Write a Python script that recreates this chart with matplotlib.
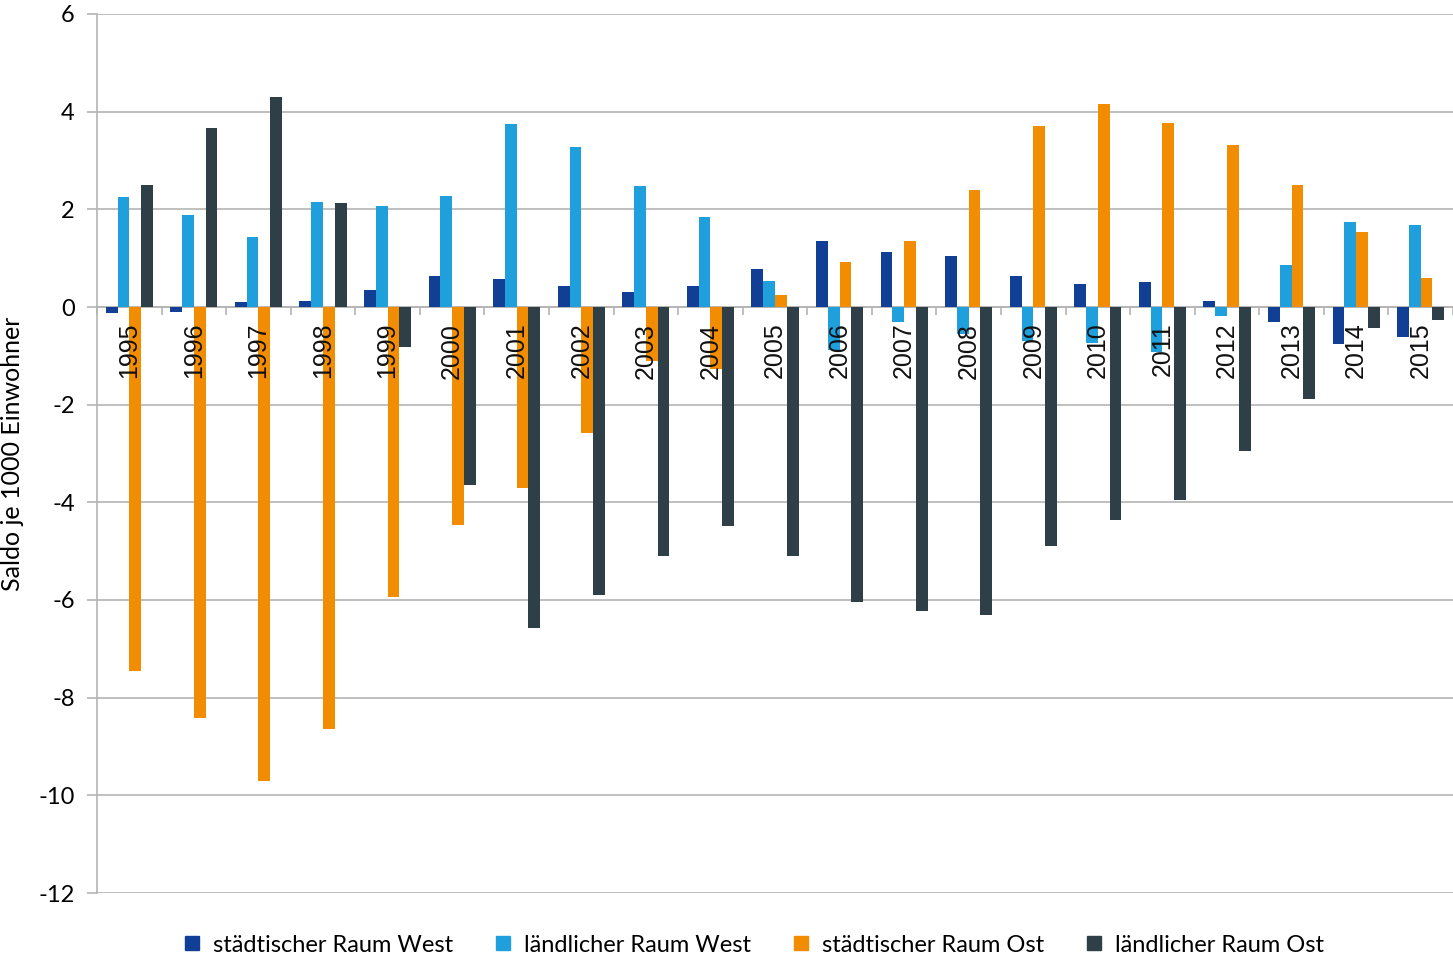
import matplotlib
matplotlib.use("Agg")
import matplotlib.pyplot as plt
from matplotlib.lines import Line2D
import numpy as np

plt.rcParams["axes.unicode_minus"] = False

years = list(range(1995, 2016))

# Saldo je 1000 Einwohner
staedt_west = [-0.13, -0.10, 0.10, 0.13, 0.35, 0.64, 0.57, 0.43, 0.31, 0.43, 0.78,
               1.35, 1.12, 1.05, 0.63, 0.47, 0.51, 0.12, -0.31, -0.76, -0.62]
laendl_west = [2.25, 1.88, 1.43, 2.15, 2.07, 2.27, 3.75, 3.28, 2.48, 1.84, 0.53,
               -0.88, -0.31, -0.55, -0.70, -0.74, -0.92, -0.18, 0.86, 1.74, 1.68]
staedt_ost = [-7.45, -8.42, -9.70, -8.65, -5.94, -4.47, -3.71, -2.58, -1.10, -1.27, 0.25,
              0.92, 1.35, 2.40, 3.70, 4.16, 3.77, 3.32, 2.50, 1.54, 0.60]
laendl_ost = [2.50, 3.67, 4.30, 2.13, -0.82, -3.65, -6.58, -5.90, -5.10, -4.49, -5.10,
              -6.05, -6.23, -6.31, -4.90, -4.36, -3.96, -2.95, -1.89, -0.43, -0.27]

series = [
    ("städtischer Raum West", staedt_west, "#123f96"),
    ("ländlicher Raum West", laendl_west, "#1fa0dc"),
    ("städtischer Raum Ost", staedt_ost, "#f28c00"),
    ("ländlicher Raum Ost", laendl_ost, "#2f3f47"),
]

grey = "#b4b4b4"
font = ["Lato", "DejaVu Sans"]

fig = plt.figure(figsize=(14.53, 9.6), dpi=100)
ax = fig.add_axes([97 / 1453, 67 / 960, 1 - 97 / 1453, 879 / 960])

x = np.arange(len(years))
w = 0.182
for i, (name, vals, col) in enumerate(series):
    ax.bar(x + (i - 1.5) * w, vals, width=w, color=col, label=name, zorder=2)

# year labels over the bars, just below zero
for xi, yr in zip(x, years):
    ax.text(xi, -0.32, str(yr), rotation=90, ha="center", va="top",
            fontsize=18, family="Liberation Sans", color="#111111", zorder=4)

ax.set_xlim(-0.5, len(years) - 0.5)
ax.set_ylim(-12, 6)
ax.set_yticks(range(-12, 7, 2))
ax.yaxis.grid(True, color=grey, linewidth=1.2, zorder=0)
ax.set_axisbelow(True)

ax.spines["bottom"].set_position(("data", 0))
ax.spines["bottom"].set_color(grey)
ax.spines["bottom"].set_linewidth(1.2)
ax.spines["bottom"].set_zorder(1)
ax.spines["left"].set_color(grey)
ax.spines["left"].set_linewidth(1.2)
ax.spines["top"].set_visible(False)
ax.spines["right"].set_visible(False)

ax.set_xticks(np.arange(len(years) + 1) - 0.5)
ax.set_xticklabels([])
ax.tick_params(axis="x", length=6, color=grey, width=1.2)
ax.tick_params(axis="y", length=7, color=grey, width=1.2, labelsize=17, pad=9)
for lab in ax.get_yticklabels():
    lab.set_family(font)

ax.set_ylabel("Saldo je 1000 Einwohner", fontsize=18, family=font)
ax.yaxis.set_label_coords(-0.054, 0.5)

handles = [Line2D([], [], marker="s", linestyle="", markersize=10,
                  markerfacecolor=c, markeredgecolor=c) for _, _, c in series]
fig.legend(handles, [s[0] for s in series], loc="center", ncol=4,
           bbox_to_anchor=(752 / 1453, 1 - 945 / 960), frameon=False,
           prop={"family": font, "size": 17}, handletextpad=0.4,
           columnspacing=1.6, handlelength=1.0)

fig.savefig("out.png", dpi=100)
